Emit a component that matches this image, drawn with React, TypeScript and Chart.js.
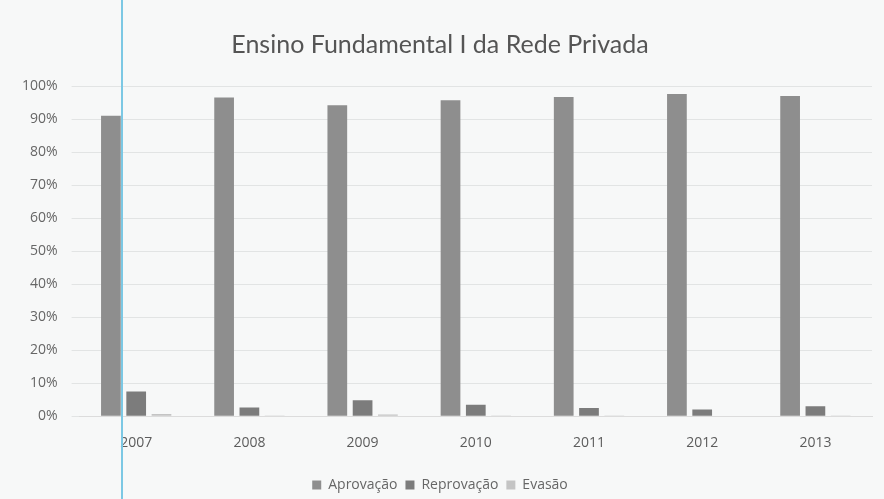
import React, { useEffect, useRef } from "react";
import { Chart, registerables } from "chart.js";

Chart.register(...registerables);

const categories = ["2007", "2008", "2009", "2010", "2011", "2012", "2013"];
const aprovacao = [0.91, 0.965, 0.942, 0.957, 0.967, 0.976, 0.97];
const reprovacao = [0.075, 0.026, 0.048, 0.035, 0.025, 0.02, 0.03];
const evasao = [0.007, 0.002, 0.005, 0.002, 0.002, 0.001, 0.002];
const seriesNames = ["Aprovação", "Reprovação", "Evasão"];
const titleText = "Ensino Fundamental I da Rede Privada";

export default function App() {
  const ref = useRef<HTMLCanvasElement | null>(null);

  useEffect(() => {
    document.body.style.margin = "0";
    document.body.style.background = "#f7f8f8";
    const ctx = ref.current!;
    const common = { categoryPercentage: 0.67, barPercentage: 0.78 };
    const chart = new Chart(ctx, {
      type: "bar",
      data: {
        labels: categories,
        datasets: [
          { label: seriesNames[0], data: aprovacao, backgroundColor: "#8e8e8e", ...common },
          { label: seriesNames[1], data: reprovacao, backgroundColor: "#7c7c7c", ...common },
          { label: seriesNames[2], data: evasao, backgroundColor: "#c4c4c4", ...common },
        ],
      },
      options: {
        responsive: false,
        animation: false,
        layout: { padding: { left: 8, right: 12, top: 30, bottom: -3 } },
        plugins: {
          title: {
            display: true,
            text: titleText,
            color: "#555",
            font: { family: "Lato", size: 25, weight: "normal" },
            padding: { top: 0, bottom: 26 },
          },
          legend: {
            position: "bottom",
            labels: {
              color: "#666",
              font: { family: "Open Sans", size: 14 },
              boxWidth: 9,
              boxHeight: 9,
              padding: 8,
            },
          },
          tooltip: { enabled: false },
        },
        scales: {
          x: {
            grid: { display: false },
            border: { color: "#dcdcdc" },
            ticks: { color: "#5c5c5c", font: { family: "Open Sans", size: 14 }, padding: 10 },
            afterFit: (scale: any) => {
              scale.height += 9;
            },
          },
          y: {
            min: 0,
            max: 1,
            grid: { color: "#e2e4e4" },
            border: { display: false },
            ticks: {
              stepSize: 0.1,
              color: "#666",
              font: { family: "Open Sans", size: 14 },
              padding: 14,
              callback: (v: any) => Math.round(Number(v) * 100) + "%",
            },
          },
        },
      },
    });
    return () => chart.destroy();
  }, []);

  return (
    <div style={{ position: "relative", width: 884, height: 499 }}>
      <canvas ref={ref} width={884} height={499} />
      <div
        style={{
          position: "absolute",
          left: 121,
          top: 0,
          width: 2,
          height: 499,
          background: "#7cc8e4",
        }}
      />
    </div>
  );
}
